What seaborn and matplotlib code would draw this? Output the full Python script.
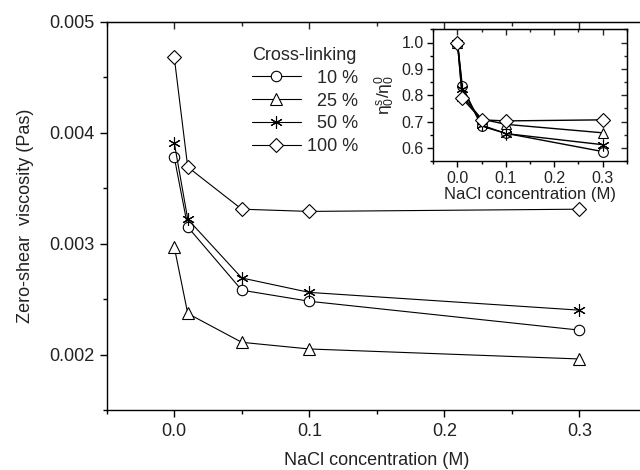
import numpy as np
import pandas as pd
import matplotlib
matplotlib.use('Agg')
import matplotlib.pyplot as plt
import seaborn as sns
from matplotlib.ticker import MultipleLocator, FormatStrFormatter

# ---- data ----
nacl = [0.0, 0.01, 0.05, 0.1, 0.3]
series = ['10 %', '25 %', '50 %', '100 %']
visc_10 = [0.00378, 0.00315, 0.00258, 0.00248, 0.00222]
visc_25 = [0.00297, 0.00237, 0.00211, 0.00205, 0.00196]
visc_50 = [0.00391, 0.00322, 0.00269, 0.00256, 0.00240]
visc_100 = [0.00468, 0.00369, 0.00331, 0.00329, 0.00331]
ratio_10 = [1.0, 0.834, 0.683, 0.656, 0.587]
ratio_25 = [1.0, 0.797, 0.710, 0.690, 0.658]
ratio_50 = [1.0, 0.824, 0.687, 0.655, 0.613]
ratio_100 = [1.0, 0.788, 0.707, 0.703, 0.707]

sns.set_style('ticks')
plt.rcParams['font.family'] = ['Liberation Sans', 'DejaVu Sans']
plt.rcParams['mathtext.fontset'] = 'custom'
plt.rcParams['mathtext.rm'] = 'Liberation Sans'
plt.rcParams['mathtext.it'] = 'Liberation Sans'
plt.rcParams['mathtext.default'] = 'regular'

visc = [visc_10, visc_25, visc_50, visc_100]
ratio = [ratio_10, ratio_25, ratio_50, ratio_100]
marker_list = ['o', '^', (6, 2, 0), 'D']
msize_main = [7.5, 8, 9, 7.5]
msize_in = [7, 7.5, 8.5, 7]


def style_axes(a, lab, maj, mino):
    for sp in a.spines.values():
        sp.set_linewidth(1.0)
        sp.set_color('black')
        sp.set_visible(True)
    a.tick_params(axis='both', which='both', direction='out', top=False, right=False,
                  labelsize=lab, width=1.0, color='black', labelcolor='#222222')
    a.tick_params(which='major', length=maj)
    a.tick_params(which='minor', length=mino)


def inner_ticks(a, xmaj, xmin, ymaj, ymin, maj, mino):
    s = a.secondary_xaxis('top')
    s.xaxis.set_major_locator(MultipleLocator(xmaj))
    s.xaxis.set_minor_locator(MultipleLocator(xmin))
    s.tick_params(which='both', direction='in', labeltop=False, width=1.0)
    s.tick_params(which='major', length=maj)
    s.tick_params(which='minor', length=mino)
    r = a.secondary_yaxis('right')
    r.yaxis.set_major_locator(MultipleLocator(ymaj))
    r.yaxis.set_minor_locator(MultipleLocator(ymin))
    r.tick_params(which='both', direction='in', labelright=False, width=1.0)
    r.tick_params(which='major', length=maj)
    r.tick_params(which='minor', length=mino)


fig = plt.figure(figsize=(6.4, 4.7), dpi=100)
ax = fig.add_axes([106.7/640, 1-410/470, (647-106.7)/640, (410-21.7)/470])

for s, v, m, ms in zip(series, visc, marker_list, msize_main):
    sns.lineplot(x=nacl, y=v, ax=ax, marker=m, markersize=ms, color='black',
                 linewidth=0.8, markerfacecolor='white', markeredgecolor='black',
                 markeredgewidth=0.8, label=s, legend=False)

ax.set_xlim(-0.05, 0.35)
ax.set_ylim(0.0015, 0.005)
ax.xaxis.set_major_locator(MultipleLocator(0.1))
ax.xaxis.set_minor_locator(MultipleLocator(0.05))
ax.yaxis.set_major_locator(MultipleLocator(0.001))
ax.yaxis.set_minor_locator(MultipleLocator(0.0005))
ax.xaxis.set_major_formatter(FormatStrFormatter('%.1f'))
ax.yaxis.set_major_formatter(FormatStrFormatter('%.3f'))
style_axes(ax, 13, 5, 3)
ax.tick_params(pad=4)
inner_ticks(ax, 0.1, 0.05, 0.001, 0.0005, 5, 3)

ax.set_xlabel('NaCl concentration (M)', fontsize=13, color='#222222', labelpad=9)
ax.set_ylabel('Zero-shear  viscosity (Pas)', fontsize=13, color='#222222', labelpad=11)

handles = ax.get_lines()[:4]
labels = ['  10 %', '  25 %', '  50 %', '100 %']
leg = ax.legend(handles, labels, title='Cross-linking', frameon=False,
                loc='upper left', bbox_to_anchor=(243/640, 1-38/470),
                bbox_transform=fig.transFigure, alignment='left',
                fontsize=13, title_fontsize=13, borderpad=0,
                handlelength=2.7, handletextpad=0.35, labelspacing=0.32)

# ---- inset ----
axi = fig.add_axes([433.3/640, 1-161.3/470, (626.7-433.3)/640, (161.3-29.3)/470])
axi.set_facecolor('white')
for s, r, m, ms in zip(series, ratio, marker_list, msize_in):
    sns.lineplot(x=nacl, y=r, ax=axi, marker=m, markersize=ms, color='black',
                 linewidth=1.0, markerfacecolor='white', markeredgecolor='black',
                 markeredgewidth=0.8, legend=False)
axi.set_xlim(-0.05, 0.35)
axi.set_ylim(0.55, 1.05)
axi.xaxis.set_major_locator(MultipleLocator(0.1))
axi.xaxis.set_minor_locator(MultipleLocator(0.05))
axi.yaxis.set_major_locator(MultipleLocator(0.1))
axi.yaxis.set_minor_locator(MultipleLocator(0.05))
axi.xaxis.set_major_formatter(FormatStrFormatter('%.1f'))
axi.yaxis.set_major_formatter(FormatStrFormatter('%.1f'))
style_axes(axi, 11.5, 4, 2.5)
axi.tick_params(axis='x', pad=3)
axi.tick_params(axis='y', pad=3)
inner_ticks(axi, 0.1, 0.05, 0.1, 0.05, 4, 2.5)
axi.set_xlabel('NaCl concentration (M)', fontsize=12, color='#222222', labelpad=0.5)
axi.set_ylabel(r'$\eta_0^s/\eta_0^0$', fontsize=12.5, color='#222222', labelpad=3)

fig.savefig('out.png', dpi=100)
